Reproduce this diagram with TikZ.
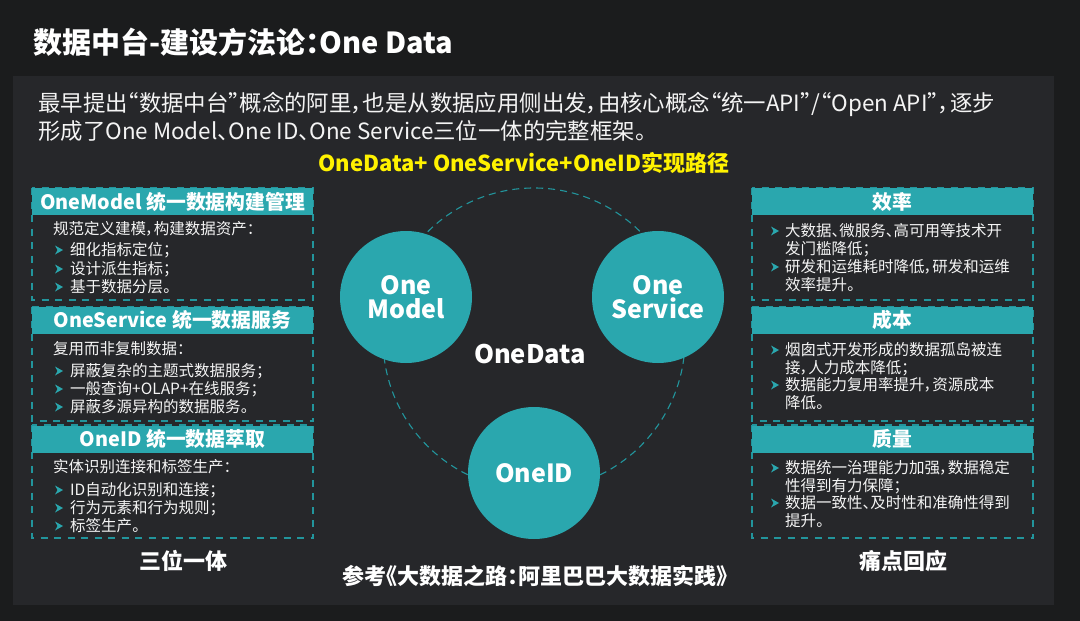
\documentclass[tikz,border=0pt]{standalone}
\usepackage{fontspec}
\setmainfont[RawFeature=+palt]{Noto Sans CJK SC}
\definecolor{outerbg}{HTML}{1B1C1D}
\definecolor{panelbg}{HTML}{26272A}
\definecolor{tealA}{HTML}{2AA7AE}
\definecolor{dashteal}{HTML}{22959C}
\definecolor{ylw}{HTML}{FFF200}
\definecolor{txt}{HTML}{F4F4F4}
\tikzset{
  chev/.pic={\fill[tealA] (-4,-4.5) -- (4,0) -- (-4,4.5) -- (-1.5,0) -- cycle;},
  bodyline/.style={anchor=west, inner sep=0pt, text=txt, font=\fontsize{15.5}{15.5}\selectfont, text height=13.6pt, text depth=1.9pt},
  hdrbox/.style={fill=tealA, inner sep=0pt, minimum width=281pt, minimum height=27pt, text=white, font=\fontsize{19.8}{19.8}\bfseries\selectfont, text height=17.4pt, text depth=2.4pt},
  dashbox/.style={draw=dashteal, line width=1.5pt, dash pattern=on 7pt off 6.5pt},
  bubble/.style={circle, fill=tealA, minimum size=132pt, inner sep=0pt, text=white, align=center, font=\fontsize{25}{24}\bfseries\selectfont},
  bigtxt/.style={inner sep=0pt, text=white, font=\fontsize{22}{22}\bfseries\selectfont, text height=19.4pt, text depth=2.6pt},
  paraline/.style={anchor=west, inner sep=0pt, text=txt, font=\fontsize{22.4}{22.4}\selectfont, text height=19.7pt, text depth=2.7pt}
}
\begin{document}
\begin{tikzpicture}[x=1pt,y=-1pt]
\useasboundingbox (0,0) rectangle (1080,621);
\fill[outerbg] (0,0) rectangle (1080,621);
\fill[panelbg] (13,76) rectangle (1054,605);

\node[anchor=west, inner sep=0pt, text=white, font=\fontsize{29}{29}\bfseries\selectfont, text height=25.5pt, text depth=3.5pt] (title) at (33,42) {数据中台-建设方法论：One Data};

\node[paraline] (p1) at (38,103) {最早提出“数据中台”概念的阿里，也是从数据应用侧出发，由核心概念“统一API”/“Open API”，逐步};
\node[paraline] (p2) at (38,131) {形成了One Model、One ID、One Service三位一体的完整框架。};

\node[inner sep=0pt, text=ylw, font=\fontsize{22}{22}\bfseries\selectfont, text height=19.4pt, text depth=2.6pt] (sub) at (524,163) {OneData+ OneService+OneID实现路径};

% ---------- left panels ----------
\draw[dashbox] (32,188) rectangle (313,300);
\draw[dashbox] (32,307) rectangle (313,421);
\draw[dashbox] (32,425) rectangle (313,538);
\node[hdrbox] (lh1) at (172.5,201.5) {OneModel 统一数据构建管理};
\node[hdrbox] (lh2) at (172.5,320) {OneService 统一数据服务};
\node[hdrbox] (lh3) at (172.5,439) {OneID 统一数据萃取};

\node[bodyline] (l1i) at (53,229) {规范定义建模，构建数据资产：};
\pic at (59,250) {chev}; \node[bodyline] (l1a) at (70,250) {细化指标定位；};
\pic at (59,269) {chev}; \node[bodyline] (l1b) at (70,269) {设计派生指标；};
\pic at (59,287) {chev}; \node[bodyline] (l1c) at (70,287) {基于数据分层。};

\node[bodyline] (l2i) at (53,349) {复用而非复制数据：};
\pic at (59,371) {chev}; \node[bodyline] (l2a) at (70,371) {屏蔽复杂的主题式数据服务；};
\pic at (59,389) {chev}; \node[bodyline] (l2b) at (70,389) {一般查询+OLAP+在线服务；};
\pic at (59,407) {chev}; \node[bodyline] (l2c) at (70,407) {屏蔽多源异构的数据服务。};

\node[bodyline] (l3i) at (53,467) {实体识别连接和标签生产：};
\pic at (59,490) {chev}; \node[bodyline] (l3a) at (70,490) {ID自动化识别和连接；};
\pic at (59,508) {chev}; \node[bodyline] (l3b) at (70,508) {行为元素和行为规则；};
\pic at (59,526) {chev}; \node[bodyline] (l3c) at (70,526) {标签生产。};

\node[bigtxt] (left) at (183,561) {三位一体};

% ---------- right panels ----------
\draw[dashbox] (752,188) rectangle (1033,300);
\draw[dashbox] (752,307) rectangle (1033,421);
\draw[dashbox] (752,425) rectangle (1033,538);
\node[hdrbox] (rh1) at (892.5,201.5) {效率};
\node[hdrbox] (rh2) at (892.5,320) {成本};
\node[hdrbox] (rh3) at (892.5,439) {质量};

\pic at (775,231) {chev}; \node[bodyline] (r1a) at (785,231) {大数据、微服务、高可用等技术开};
\node[bodyline] (r1b) at (785,249) {发门槛降低；};
\pic at (775,267) {chev}; \node[bodyline] (r1c) at (785,267) {研发和运维耗时降低，研发和运维};
\node[bodyline] (r1d) at (785,285) {效率提升。};

\pic at (775,350) {chev}; \node[bodyline] (r2a) at (785,350) {烟囱式开发形成的数据孤岛被连};
\node[bodyline] (r2b) at (785,368) {接，人力成本降低；};
\pic at (775,385) {chev}; \node[bodyline] (r2c) at (785,385) {数据能力复用率提升，资源成本};
\node[bodyline] (r2d) at (785,403) {降低。};

\pic at (775,468) {chev}; \node[bodyline] (r3a) at (785,468) {数据统一治理能力加强，数据稳定};
\node[bodyline] (r3b) at (785,486) {性得到有力保障；};
\pic at (775,503) {chev}; \node[bodyline] (r3c) at (785,503) {数据一致性、及时性和准确性得到};
\node[bodyline] (r3d) at (785,521) {提升。};

\node[bigtxt] (right) at (903,561) {痛点回应};

% ---------- centre ----------
\coordinate (hub) at (534,339);
\draw[dashteal, line width=1.1pt, dash pattern=on 7pt off 5pt] (hub) circle[radius=151pt];
\node[bubble] (model) at (406,297) {One\\Model};
\node[bubble] (service) at (658,297) {One\\Service};
\node[bubble] (oneid) at (534,473) {OneID};
\node[inner sep=0pt, text=white, font=\fontsize{25.5}{25.5}\bfseries\selectfont] (onedata) at (530,354) {OneData};

\node[inner sep=0pt, text=white, font=\fontsize{22}{22}\bfseries\selectfont, text height=19.4pt, text depth=2.6pt] (ref) at (535,576) {参考《大数据之路：阿里巴巴大数据实践》};
\end{tikzpicture}
\end{document}
